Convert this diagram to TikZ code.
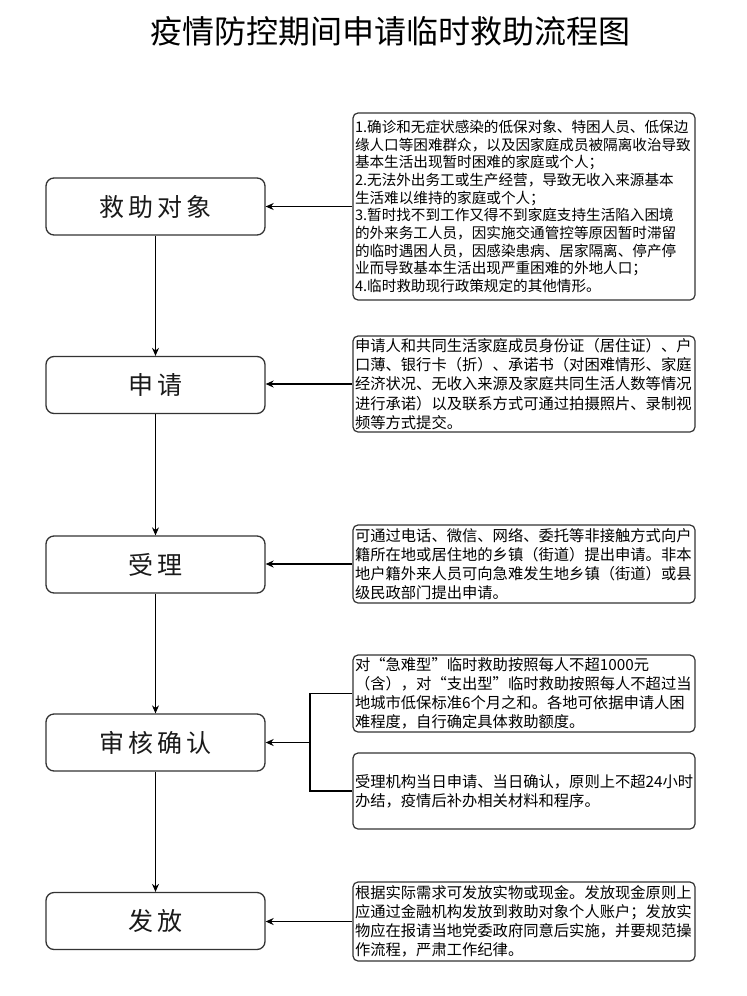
\documentclass[tikz,border=0pt]{standalone}
\usepackage{fontspec}
\usepackage{xcolor}
\usepackage{tikz}
\usetikzlibrary{arrows.meta, positioning, calc}
\newfontfamily\cjk{Noto Sans CJK SC}
\newfontfamily\cjkwide[LetterSpace=15]{Noto Sans CJK SC}
\definecolor{boxline}{HTML}{333333}
\definecolor{labelcolor}{HTML}{1A1A1A}

\begin{document}
\begin{tikzpicture}[x=1pt, y=-1pt,
    stepbox/.style={draw=boxline, line width=1.3pt, rounded corners=8pt, minimum width=219pt, minimum height=57pt, inner sep=0pt, font=\cjkwide\fontsize{25}{30}\selectfont, text=labelcolor},
    notebox/.style={draw=boxline, line width=1.2pt, rounded corners=5pt, text width=338pt, inner sep=2pt, align=left, font=\cjk\fontsize{15.3}{19.2}\selectfont},
    flow/.style={line width=1.2pt, -{Stealth[length=8pt, width=7pt]}}]
    \useasboundingbox (0,0) rectangle (747,996);

    % Title
    \node (title) at (390,31) {\cjk\fontsize{32}{38}\selectfont 疫情防控期间申请临时救助流程图};

    % Main steps
    \node[stepbox] (target) at (155.5,206.5) {救助对象};
    \node[stepbox] (apply)  at (155.5,385)   {申请};
    \node[stepbox] (accept) at (155.5,564.5) {受理};
    \node[stepbox] (review) at (155.5,742.5) {审核确认};
    \node[stepbox] (grant)  at (155.5,921)   {发放};

    % Notes
    \node[notebox, minimum height=187pt, font=\cjk\fontsize{14.6}{17.7}\selectfont] (targetnote) at (524,206.5) {1.确诊和无症状感染的低保对象、特困人员、低保边\\缘人口等困难群众，以及因家庭成员被隔离收治导致\\基本生活出现暂时困难的家庭或个人；\\2.无法外出务工或生产经营，导致无收入来源基本\\生活难以维持的家庭或个人；\\3.暂时找不到工作又得不到家庭支持生活陷入困境\\的外来务工人员，因实施交通管控等原因暂时滞留\\的临时遇困人员，因感染患病、居家隔离、停产停\\业而导致基本生活出现严重困难的外地人口；\\4.临时救助现行政策规定的其他情形。};
    \node[notebox, minimum height=96pt] (applynote) at (524,384) {申请人和共同生活家庭成员身份证（居住证）、户\\口薄、银行卡（折）、承诺书（对困难情形、家庭\\经济状况、无收入来源及家庭共同生活人数等情况\\进行承诺）以及联系方式可通过拍摄照片、录制视\\频等方式提交。};
    \node[notebox, minimum height=78pt] (acceptnote) at (524,564) {可通过电话、微信、网络、委托等非接触方式向户\\籍所在地或居住地的乡镇（街道）提出申请。非本\\地户籍外来人员可向急难发生地乡镇（街道）或县\\级民政部门提出申请。};
    \node[notebox, minimum height=77pt] (reviewnote) at (524,693.5) {对“急难型”临时救助按照每人不超1000元\\（含），对“支出型”临时救助按照每人不超过当\\地城市低保标准6个月之和。各地可依据申请人困\\难程度，自行确定具体救助额度。};
    \node[notebox, minimum height=76pt] (timenote) at (524,791) {受理机构当日申请、当日确认，原则上不超24小时\\办结，疫情后补办相关材料和程序。};
    \node[notebox, minimum height=79pt] (grantnote) at (524,921.5) {根据实际需求可发放实物或现金。发放现金原则上\\应通过金融机构发放到救助对象个人账户；发放实\\物应在报请当地党委政府同意后实施，并要规范操\\作流程，严肃工作纪律。};

    % Flow down
    \draw[flow] (target) -- (apply);
    \draw[flow] (apply) -- (accept);
    \draw[flow] (accept) -- (review);
    \draw[flow] (review) -- (grant);

    % Notes to steps
    \draw[flow] (targetnote.west) -- (targetnote.west -| target.east);
    \draw[flow] (applynote.west) -- (applynote.west -| apply.east);
    \draw[flow] (acceptnote.west) -- (acceptnote.west -| accept.east);
    \draw[flow] (grantnote.west) -- (grantnote.west -| grant.east);

    % Bracket for review
    \coordinate (join) at (310,742.5);
    \draw[line width=1.2pt] (reviewnote.west) -| (join) |- (timenote.west);
    \draw[flow] (join) -- (review.east);
\end{tikzpicture}
\end{document}
